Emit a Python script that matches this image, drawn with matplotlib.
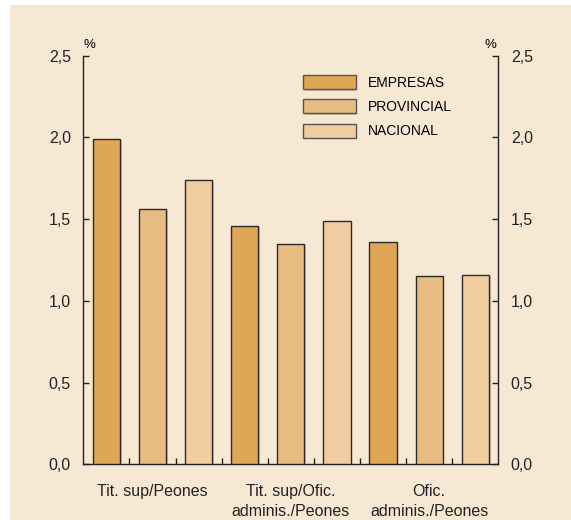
import numpy as np
import matplotlib
matplotlib.use("Agg")
import matplotlib.pyplot as plt
import matplotlib.patheffects as pe
from matplotlib.patches import Rectangle
from matplotlib.ticker import MultipleLocator, FixedLocator, FuncFormatter

plt.rcParams['font.family'] = ['Liberation Sans', 'DejaVu Sans']

# ratios by professional category pair (%)
groups = ["Tit. sup/Peones", "Tit. sup/Ofic.\nadminis./Peones", "Ofic.\nadminis./Peones"]
series = ["EMPRESAS", "PROVINCIAL", "NACIONAL"]
empresas = [1.99, 1.46, 1.36]
provincial = [1.56, 1.35, 1.15]
nacional = [1.74, 1.49, 1.16]
colors = ["#dfa656", "#e8bb80", "#efcda0"]
bg = "#f7e8d4"

fig = plt.figure(figsize=(5.71, 5.20), dpi=100)
fig.patch.set_facecolor("white")
fig.add_artist(Rectangle((10 / 571, 0), 1, 515 / 520, transform=fig.transFigure,
                         facecolor=bg, edgecolor="none", zorder=0))

ax = fig.add_axes([83.3 / 571, 55.7 / 520, 415 / 571, 408.8 / 520])
ax.set_facecolor("none")

shadow = [pe.SimplePatchShadow(offset=(1.2, -1.2), shadow_rgbFace="#777777", alpha=0.35),
          pe.Normal()]

nser = len(series)
handles = []
for j, (name, vals) in enumerate(zip(series, [empresas, provincial, nacional])):
    x = np.arange(len(groups)) * nser + j + 0.5
    b = ax.bar(x, vals, width=0.59, color=colors[j], edgecolor="#2b2b2b",
               linewidth=1.0, label=name, zorder=3)
    for p in b.patches:
        p.set_path_effects(shadow)
    handles.append(b)

ax.set_xlim(0, len(groups) * nser)
ax.set_ylim(0, 2.5)

ax.spines["top"].set_visible(False)
for s in ["left", "right", "bottom"]:
    ax.spines[s].set_linewidth(1.0)
    ax.spines[s].set_color("#222222")

fmt = FuncFormatter(lambda v, p: f"{v:.1f}".replace(".", ","))
ax.yaxis.set_major_locator(MultipleLocator(0.5))
ax.yaxis.set_major_formatter(fmt)
ax.tick_params(axis="y", which="major", direction="in", length=4, width=1,
               labelsize=11.5, pad=9, left=True, right=True,
               labelleft=True, labelright=True, colors="#222222")

ax.xaxis.set_major_locator(FixedLocator(np.arange(len(groups)) * nser + nser / 2))
ax.set_xticklabels(groups, fontsize=11.5, linespacing=1.45)
ax.xaxis.set_minor_locator(FixedLocator(np.arange(1, len(groups) * nser)))
ax.tick_params(axis="x", which="major", length=0, pad=14, colors="#222222")
ax.tick_params(axis="x", which="minor", direction="in", length=4, width=1, color="#222222")

ax.text(0.0, 1.012, "%", transform=ax.transAxes, fontsize=9.5, ha="left", va="bottom")
ax.text(0.995, 1.012, "%", transform=ax.transAxes, fontsize=9.5, ha="right", va="bottom")

leg = ax.legend(handles=handles, loc="upper left", bbox_to_anchor=(0.529, 0.952),
                frameon=False, fontsize=10, handlelength=3.8, handleheight=1.15,
                labelspacing=0.7, handletextpad=0.9, borderpad=0, borderaxespad=0)
for h in leg.legend_handles:
    h.set_edgecolor("#555555")

fig.savefig("out.png", dpi=100, facecolor=fig.get_facecolor())
